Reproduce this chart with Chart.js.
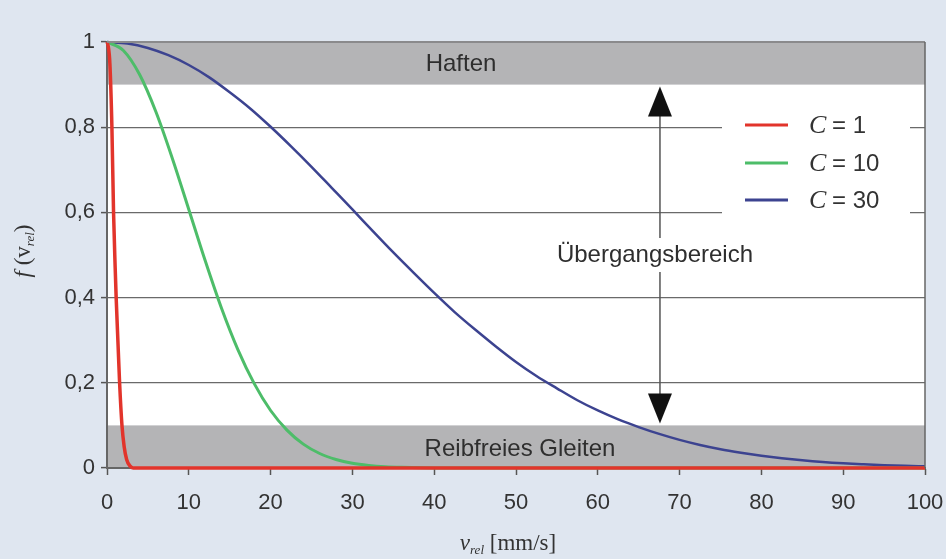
<!DOCTYPE html>
<html>
<head>
<meta charset="utf-8">
<script src="https://cdn.jsdelivr.net/npm/chart.js@4/dist/chart.umd.min.js"></script>
<style>
html,body{margin:0;padding:0;background:#dfe6f0;}
#wrap{width:946px;height:559px;position:relative;}
</style>
</head>
<body>
<div id="wrap"><canvas id="c" width="946" height="559"></canvas></div>
<script>
// Values
const seriesLabels = ["1", "10", "30"];
const redX   = [0, 0.15, 0.35, 0.6, 0.8, 1.0, 1.12, 1.35, 1.54, 1.83, 2.1, 2.4, 2.8, 3.2, 4, 10, 20, 30, 40, 50, 60, 70, 80, 90, 100];
const redY   = [1, 0.99, 0.95, 0.8, 0.6, 0.47, 0.4, 0.29, 0.2, 0.1, 0.05, 0.02, 0.005, 0, 0, 0, 0, 0, 0, 0, 0, 0, 0, 0, 0];
const greenX = [0, 2, 4, 6, 8, 10, 12, 14, 16, 18, 20, 22, 24, 26, 28, 30, 32, 34, 36, 40, 50, 60, 70, 80, 90, 100];
const greenY = [1, 0.98, 0.923, 0.835, 0.726, 0.607, 0.487, 0.375, 0.278, 0.198, 0.135, 0.089, 0.056, 0.034, 0.02, 0.011, 0.006, 0.003, 0.0015, 0, 0, 0, 0, 0, 0, 0];
const blueX  = [0, 2.5, 5, 7.5, 10, 12.5, 15, 17.5, 20, 22.5, 25, 27.5, 30, 32.5, 35, 37.5, 40, 42.5, 45, 47.5, 50, 52.5, 55, 57.5, 60, 62.5, 65, 67.5, 70, 72.5, 75, 77.5, 80, 82.5, 85, 87.5, 90, 92.5, 95, 97.5, 100];
const blueY  = [1, 0.9965, 0.986, 0.969, 0.946, 0.917, 0.882, 0.844, 0.801, 0.755, 0.707, 0.657, 0.607, 0.556, 0.506, 0.458, 0.411, 0.366, 0.325, 0.286, 0.249, 0.216, 0.187, 0.159, 0.135, 0.114, 0.096, 0.08, 0.066, 0.054, 0.044, 0.036, 0.029, 0.023, 0.018, 0.014, 0.011, 0.0087, 0.0067, 0.0051, 0.0039];
const xTicks = [0, 10, 20, 30, 40, 50, 60, 70, 80, 90, 100];
const yTicks = [0, 0.2, 0.4, 0.6, 0.8, 1];
const bandTop = [0.9, 1];
const bandBottom = [0, 0.1];
const arrowX = 67.6;
const arrowRange = [0.9, 0.1];

const COLORS = ["#e2342b", "#4dbd69", "#3c4390"];
const pts = (xs, ys) => xs.map((x, i) => ({x, y: ys[i]}));
const SANS = '"Liberation Sans", Arial, sans-serif';
const SERIF = '"Liberation Serif", "Times New Roman", serif';

const decoPlugin = {
  id: 'deco',
  beforeDraw(chart) {
    const {ctx, chartArea: a, scales: {x, y}} = chart;
    ctx.save();
    ctx.fillStyle = '#dfe6f0';
    ctx.fillRect(0, 0, chart.width, chart.height);
    ctx.fillStyle = '#ffffff';
    ctx.fillRect(a.left, a.top, a.right - a.left, a.bottom - a.top);
    ctx.fillStyle = '#b4b4b6';
    ctx.fillRect(a.left, y.getPixelForValue(bandTop[1]), a.right - a.left, y.getPixelForValue(bandTop[0]) - y.getPixelForValue(bandTop[1]));
    ctx.fillRect(a.left, y.getPixelForValue(bandBottom[1]), a.right - a.left, y.getPixelForValue(bandBottom[0]) - y.getPixelForValue(bandBottom[1]));
    ctx.restore();
  },
  afterDatasetsDraw(chart) {
    const {ctx, chartArea: a, scales: {x, y}} = chart;
    ctx.save();
    // borders
    ctx.strokeStyle = '#8a8a8c';
    ctx.lineWidth = 2;
    ctx.beginPath();
    ctx.moveTo(a.left, a.top); ctx.lineTo(a.right, a.top);
    ctx.stroke();
    ctx.strokeStyle = '#666';
    ctx.lineWidth = 1.5;
    ctx.beginPath();
    ctx.moveTo(a.right, a.top); ctx.lineTo(a.right, a.bottom);
    ctx.stroke();

    // band texts
    ctx.fillStyle = '#2e2e2e';
    ctx.font = '24px ' + SANS;
    ctx.textAlign = 'center';
    ctx.textBaseline = 'middle';
    ctx.fillText('Haften', 461, (y.getPixelForValue(bandTop[0]) + y.getPixelForValue(bandTop[1])) / 2 + 1);
    ctx.fillText('Reibfreies Gleiten', 520, (y.getPixelForValue(bandBottom[0]) + y.getPixelForValue(bandBottom[1])) / 2 + 3);

    // arrow
    const ax = x.getPixelForValue(arrowX);
    const yTop = y.getPixelForValue(arrowRange[0]);
    const yBot = y.getPixelForValue(arrowRange[1]);
    const midY = y.getPixelForValue(0.5);
    ctx.strokeStyle = '#555';
    ctx.lineWidth = 1.5;
    ctx.beginPath();
    ctx.moveTo(ax, yTop + 30); ctx.lineTo(ax, midY - 17);
    ctx.moveTo(ax, midY + 17); ctx.lineTo(ax, yBot - 30);
    ctx.stroke();
    ctx.fillStyle = '#111';
    ctx.beginPath();
    ctx.moveTo(ax, yTop + 2); ctx.lineTo(ax - 12, yTop + 32); ctx.lineTo(ax + 12, yTop + 32); ctx.closePath(); ctx.fill();
    ctx.beginPath();
    ctx.moveTo(ax, yBot - 2); ctx.lineTo(ax - 12, yBot - 32); ctx.lineTo(ax + 12, yBot - 32); ctx.closePath(); ctx.fill();
    ctx.fillStyle = '#2e2e2e';
    ctx.font = '24px ' + SANS;
    ctx.fillText('Übergangsbereich', ax - 5, midY);

    // legend box
    ctx.fillStyle = '#ffffff';
    ctx.fillRect(722, 100, 188, 125);
    const rows = [125, 163, 200];
    seriesLabels.forEach((lab, i) => {
      ctx.strokeStyle = COLORS[i];
      ctx.lineWidth = 3;
      ctx.beginPath();
      ctx.moveTo(745, rows[i]); ctx.lineTo(788, rows[i]);
      ctx.stroke();
      ctx.fillStyle = '#333';
      ctx.textAlign = 'left';
      ctx.font = 'italic 26px ' + SERIF;
      ctx.fillText('C', 809, rows[i] + 1);
      ctx.font = '24px ' + SANS;
      ctx.fillText('= ' + lab, 832, rows[i] + 1);
    });

    // y title: f (v_rel)
    ctx.save();
    ctx.translate(28, 251);
    ctx.rotate(-Math.PI / 2);
    ctx.textAlign = 'left';
    ctx.textBaseline = 'alphabetic';
    ctx.fillStyle = '#333';
    let parts = [
      ['italic 23px ' + SERIF, 'f', 0],
      ['23px ' + SERIF, ' (v', 0],
      ['italic 13px ' + SERIF, 'rel', 4],
      ['23px ' + SERIF, ')', 0]
    ];
    let w = 0;
    parts.forEach(p => { ctx.font = p[0]; w += ctx.measureText(p[1]).width; });
    let cx = -w / 2;
    parts.forEach(p => { ctx.font = p[0]; ctx.fillText(p[1], cx, 2 + p[2]); cx += ctx.measureText(p[1]).width; });
    ctx.restore();

    // x title: v_rel [mm/s]
    parts = [
      ['italic 23px ' + SERIF, 'v', 0],
      ['italic 13px ' + SERIF, 'rel', 4],
      ['23px ' + SERIF, ' [mm/s]', 0]
    ];
    ctx.textAlign = 'left';
    ctx.textBaseline = 'alphabetic';
    ctx.fillStyle = '#333';
    w = 0;
    parts.forEach(p => { ctx.font = p[0]; w += ctx.measureText(p[1]).width; });
    cx = 508 - w / 2;
    parts.forEach(p => { ctx.font = p[0]; ctx.fillText(p[1], cx, 550 + p[2]); cx += ctx.measureText(p[1]).width; });
    ctx.restore();
  }
};

new Chart(document.getElementById('c'), {
  type: 'scatter',
  data: {
    datasets: [
      {label: 'C = ' + seriesLabels[0], data: pts(redX, redY), borderColor: COLORS[0], borderWidth: 3.5, showLine: true, pointRadius: 0, cubicInterpolationMode: 'monotone', clip: 6},
      {label: 'C = ' + seriesLabels[1], data: pts(greenX, greenY), borderColor: COLORS[1], borderWidth: 3, showLine: true, pointRadius: 0, cubicInterpolationMode: 'monotone', clip: 6},
      {label: 'C = ' + seriesLabels[2], data: pts(blueX, blueY), borderColor: COLORS[2], borderWidth: 2.5, showLine: true, pointRadius: 0, cubicInterpolationMode: 'monotone', clip: 6}
    ]
  },
  options: {
    responsive: false,
    animation: false,
    devicePixelRatio: 1,
    layout: {padding: {left: 0, right: 21, top: 42, bottom: 0}},
    plugins: {legend: {display: false}, tooltip: {enabled: false}},
    scales: {
      x: {
        type: 'linear', min: 0, max: 100,
        afterBuildTicks: s => { s.ticks = xTicks.map(v => ({value: v})); },
        afterFit: s => { s.height = 91; s.paddingLeft = 0; s.paddingRight = 0; },
        grid: {drawOnChartArea: false, tickLength: 7, tickColor: '#555', tickWidth: 1.5},
        border: {display: true, color: '#666', width: 2},
        ticks: {color: '#333', font: {family: SANS, size: 22}, padding: 15, maxRotation: 0, autoSkip: false}
      },
      y: {
        type: 'linear', min: 0, max: 1,
        afterBuildTicks: s => { s.ticks = yTicks.map(v => ({value: v})); },
        afterFit: s => { s.width = 107; s.paddingTop = 0; s.paddingBottom = 0; },
        grid: {color: c => (c.tick && (c.tick.value === 0 || c.tick.value === 1)) ? 'rgba(0,0,0,0)' : '#6a6a6a', lineWidth: 1.2, tickLength: 6, tickColor: '#555', tickWidth: 1.5},
        border: {display: true, color: '#666', width: 2},
        ticks: {color: '#333', font: {family: SANS, size: 22}, padding: 6,
          callback: v => String(Math.round(v * 10) / 10).replace('.', ',')}
      }
    }
  },
  plugins: [decoPlugin]
});
</script>
</body>
</html>
